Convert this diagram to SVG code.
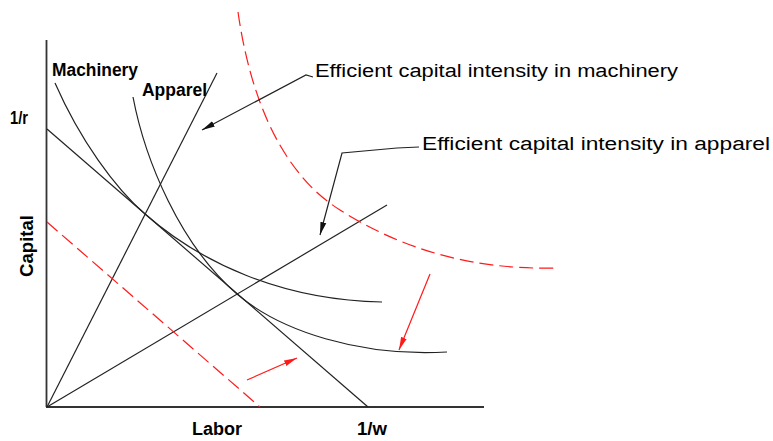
<svg xmlns="http://www.w3.org/2000/svg" width="773" height="441" viewBox="0 0 773 441">
<style>
.ax{stroke:#333;stroke-width:1.8;fill:none}
.ln{stroke:#222;stroke-width:1.2;fill:none}
.rd{stroke:#ff1a1a;stroke-width:1.2;fill:none;stroke-dasharray:14 6}
.ra{stroke:#ff1a1a;stroke-width:1.2;fill:none}
.lb{font-family:"Liberation Sans",Arial,sans-serif;font-weight:bold;font-size:18px;fill:#000}
.nt{font-family:"Liberation Sans",Arial,sans-serif;font-size:18px;fill:#000}
</style>
<defs>
<marker id="ab" markerUnits="userSpaceOnUse" markerWidth="14" markerHeight="8" refX="13" refY="4" orient="auto"><path d="M0,1 L13,4 L0,7 z" fill="#111"/></marker>
<marker id="ar" markerUnits="userSpaceOnUse" markerWidth="14" markerHeight="8" refX="13" refY="4" orient="auto"><path d="M0,1 L13,4 L0,7 z" fill="#ff1a1a"/></marker>
</defs>
<g id="axes">
<line class="ax" x1="46.5" y1="40" x2="46.5" y2="407"/>
<line class="ax" x1="46" y1="407" x2="484" y2="407"/>
</g>
<g id="connectors">
<line id="ray-machinery" class="ln" x1="47" y1="407" x2="217" y2="73"/>
<line id="ray-apparel" class="ln" x1="47" y1="407" x2="387" y2="205"/>
<line id="budget" class="ln" x1="47" y1="129" x2="368" y2="407"/>
<path id="iso-machinery" class="ln" d="M55,83 C80,140 115,188 145,214 C200,262 280,300 382,302"/>
<path id="iso-apparel" class="ln" d="M133,97 C145,160 180,245 237,294 C280,331 360,357 447,352"/>
<path id="red-curve" class="rd" d="M238,12 C255,130 300,185 340,210 C400,248 470,270 555,268"/>
<line id="red-line" class="rd" x1="47" y1="222" x2="260" y2="407"/>
<line class="ra" x1="247" y1="380" x2="297" y2="358" marker-end="url(#ar)"/>
<line class="ra" x1="430" y1="274" x2="399" y2="350" marker-end="url(#ar)"/>
<polyline class="ln" points="313,77 306,75 202,130" marker-end="url(#ab)"/>
<polyline class="ln" points="419,147 397,148 342,153 320,235" marker-end="url(#ab)"/>
</g>
<g id="labels">
<text class="lb" x="52" y="76" textLength="86" lengthAdjust="spacingAndGlyphs">Machinery</text>
<text class="lb" x="142" y="96" textLength="65" lengthAdjust="spacingAndGlyphs">Apparel</text>
<text class="lb" x="10" y="124" textLength="18" lengthAdjust="spacingAndGlyphs">1/r</text>
<text class="lb" transform="translate(33,246) rotate(-90)" text-anchor="middle" textLength="62" lengthAdjust="spacingAndGlyphs">Capital</text>
<text class="lb" x="192" y="435" textLength="50" lengthAdjust="spacingAndGlyphs">Labor</text>
<text class="lb" x="357" y="435" textLength="30" lengthAdjust="spacingAndGlyphs">1/w</text>
</g>
<g id="note-machinery">
<text class="nt" x="315" y="77" textLength="363" lengthAdjust="spacingAndGlyphs">Efficient capital intensity in machinery</text>
</g>
<g id="note-apparel">
<text class="nt" x="422" y="150" textLength="348" lengthAdjust="spacingAndGlyphs">Efficient capital intensity in apparel</text>
</g>
</svg>
